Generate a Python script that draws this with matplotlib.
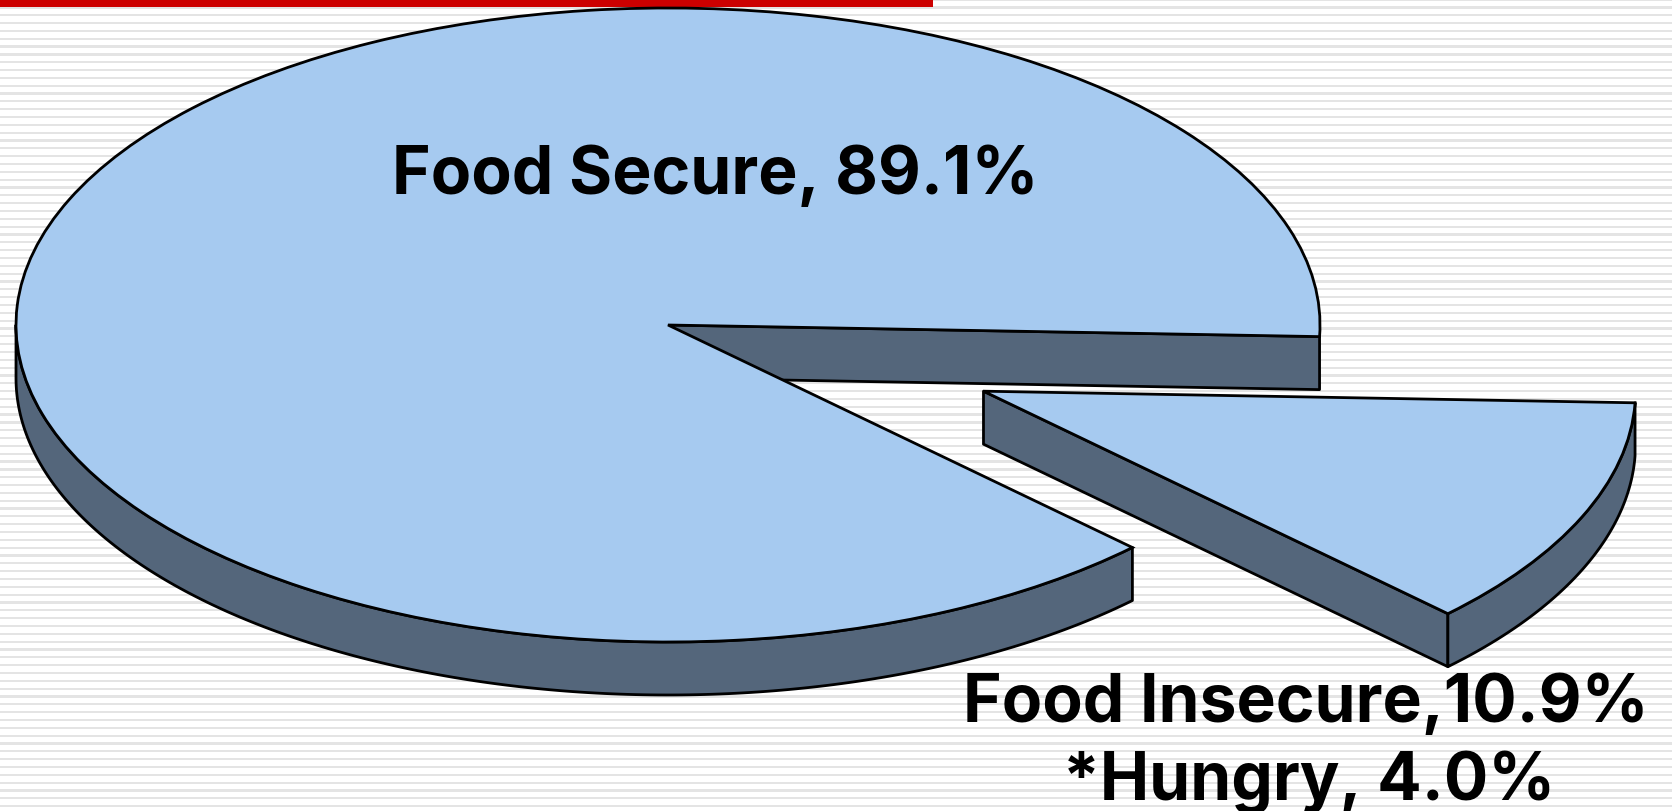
import matplotlib
matplotlib.use("Agg")
import matplotlib.pyplot as plt
from matplotlib.patches import Polygon
import numpy as np

W, H = 1672, 812

# slice sizes as measured on the drawing (the 3D tilt widens the small one)
slice_names = ["Food Secure", "Food Insecure"]
slice_sizes = [88.2, 11.8]
explode = [0, 0.527]
start_angle = -2.1

labels = ["Food Secure, 89.1%", "Food Insecure,10.9%", "*Hungry, 4.0%"]

# pie geometry in pixels
cx, cy = 668, 326
rx, ry = 652, 317
depth = 53

LIGHT = "#A6CAF0"
DARK = "#54667B"
LW = 2.0

fig = plt.figure(figsize=(W / 100, H / 100), dpi=100)

# striped slide background + red bar
bg = fig.add_axes([0, 0, 1, 1])
bg.set_xlim(0, W)
bg.set_ylim(H, 0)
bg.axis("off")
for y in np.arange(-0.5, H, 7.83):
    bg.axhspan(y, y + 2.2, color="#E4E4E4", lw=0)
bg.axhspan(0, 8, xmin=0, xmax=933 / W, color="#CC0000", lw=0)

# pie axes, one data unit = one radius, so the circle comes out as an ellipse
ax = fig.add_axes([0, 0, 1, 1])
ax.patch.set_alpha(0)
d = depth / ry


def arc(w, a, b):
    t = np.radians(np.linspace(a, b, 200))
    cen = np.array(w.center)
    return np.column_stack([cen[0] + w.r * np.cos(t), cen[1] + w.r * np.sin(t)])


def wall(pts):
    low = pts[::-1] - [0, d]
    return Polygon(np.vstack([pts, low]), closed=True, fc=DARK, ec="black", lw=LW, joinstyle="round")


top, _ = ax.pie(slice_sizes, explode=explode, startangle=start_angle, radius=1, frame=True,
                colors=[LIGHT, LIGHT],
                wedgeprops=dict(edgecolor="black", linewidth=LW, zorder=5))
main, small = top

# main piece: outer wall along the front, cut face seen through the gap
ax.add_patch(wall(arc(main, 180, main.theta2)))
c0 = np.array(main.center)
p0 = arc(main, main.theta1, main.theta1)[0]
ax.add_patch(wall(np.array([c0, p0])))

# pulled out piece: cut face and outer wall
c1 = np.array(small.center)
p1 = arc(small, small.theta1, small.theta1)[0]
ax.add_patch(wall(np.array([c1, p1])))
ax.add_patch(wall(arc(small, small.theta1, small.theta2)))

ax.set_aspect("auto")
ax.set_xlim(-cx / rx, (W - cx) / rx)
ax.set_ylim(-(H - cy) / ry, cy / ry)
ax.axis("off")

font = dict(family="Inter", fontweight="bold", fontsize=47.5, ha="center", va="baseline", color="black")
fig.text(715 / W, 1 - 194 / H, labels[0], **font)
fig.text(1306 / W, 1 - 722 / H, labels[1], **font)
fig.text(1309 / W, 1 - 800 / H, labels[2], **font)

fig.savefig("out.png", dpi=100)
